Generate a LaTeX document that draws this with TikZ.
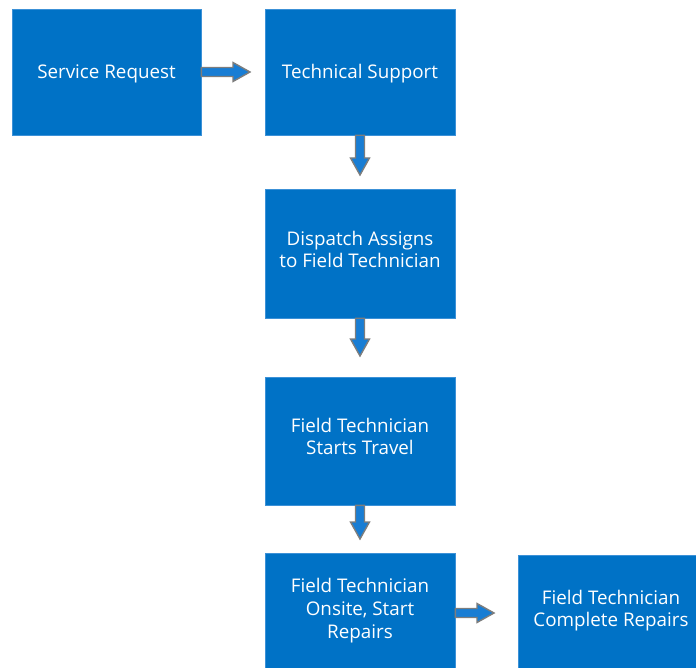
\documentclass[tikz,border=0pt]{standalone}
\usepackage{fontspec}
\setmainfont{Open Sans}
\usetikzlibrary{calc}
\definecolor{boxblue}{RGB}{0,114,198}
\definecolor{boxedge}{RGB}{60,145,215}
\definecolor{arrblue}{RGB}{24,125,212}
\definecolor{arrgray}{RGB}{125,125,125}
\tikzset{
  flowbox/.style={rectangle, fill=boxblue, draw=boxedge, line width=0.6pt,
    inner sep=0pt},
  flowtext/.style={text=white, align=center, inner sep=0pt,
    font=\fontsize{18.8}{22}\selectfont},
  blockarr/.style={fill=arrblue, draw=arrgray, line width=1.4pt, line join=miter}
}
\newcommand\rightarr[2]{%
  \path[blockarr] let \p1=#1, \p2=#2 in
    (\x1,\y1+4.5pt) -- (\x2-17pt,\y1+4.5pt) -- (\x2-17pt,\y1+9.5pt) -- (\x2,\y1)
    -- (\x2-17pt,\y1-9.5pt) -- (\x2-17pt,\y1-4.5pt) -- (\x1,\y1-4.5pt) -- cycle;}
\newcommand\downarr[2]{%
  \path[blockarr] let \p1=#1, \p2=#2 in
    (\x1-4.5pt,\y1) -- (\x1-4.5pt,\y2+17pt) -- (\x1-9.5pt,\y2+17pt) -- (\x1,\y2)
    -- (\x1+9.5pt,\y2+17pt) -- (\x1+4.5pt,\y2+17pt) -- (\x1+4.5pt,\y1) -- cycle;}
\begin{document}
\begin{tikzpicture}[x=1pt,y=-1pt]
\useasboundingbox (0,0) rectangle (696,668);
\clip (0,0) rectangle (696,668);
\node[flowbox, minimum width=189pt, minimum height=126pt] (b1) at (106.5,72) {};
\node[flowbox, minimum width=190pt, minimum height=126pt] (b2) at (360,72) {};
\node[flowbox, minimum width=190pt, minimum height=129pt] (b3) at (360,253.5) {};
\node[flowbox, minimum width=190pt, minimum height=128pt] (b4) at (360,441) {};
\node[flowbox, minimum width=190pt, minimum height=120pt] (b5) at (360,613) {};
\node[flowbox, minimum width=182pt, minimum height=120pt] (b6) at (609,615) {};
\node[flowtext] (t1) at (106.5,74) {Service Request};
\node[flowtext] (t2) at (360,74) {Technical Support};
\node[flowtext] (t3) at (360,249) {Dispatch Assigns\\to Field Technician};
\node[flowtext] (t4) at (360,436) {Field Technician\\Starts Travel};
\node[flowtext, font=\fontsize{18.8}{23}\selectfont] (t5) at (360,611) {Field Technician\\Onsite, Start\\Repairs};
\node[flowtext] (t6) at (611,611) {Field Technician\\Complete Repairs};
\coordinate (a1tip) at (250,72);
\coordinate (a2tip) at (360,175);
\coordinate (a3tip) at (360,356);
\coordinate (a4tip) at (360,539);
\coordinate (a5tip) at (494,613);
\rightarr{(b1.east)}{(a1tip)}
\downarr{(b2.south)}{(a2tip)}
\downarr{(b3.south)}{(a3tip)}
\downarr{(b4.south)}{(a4tip)}
\rightarr{(b5.east)}{(a5tip)}
\end{tikzpicture}
\end{document}
